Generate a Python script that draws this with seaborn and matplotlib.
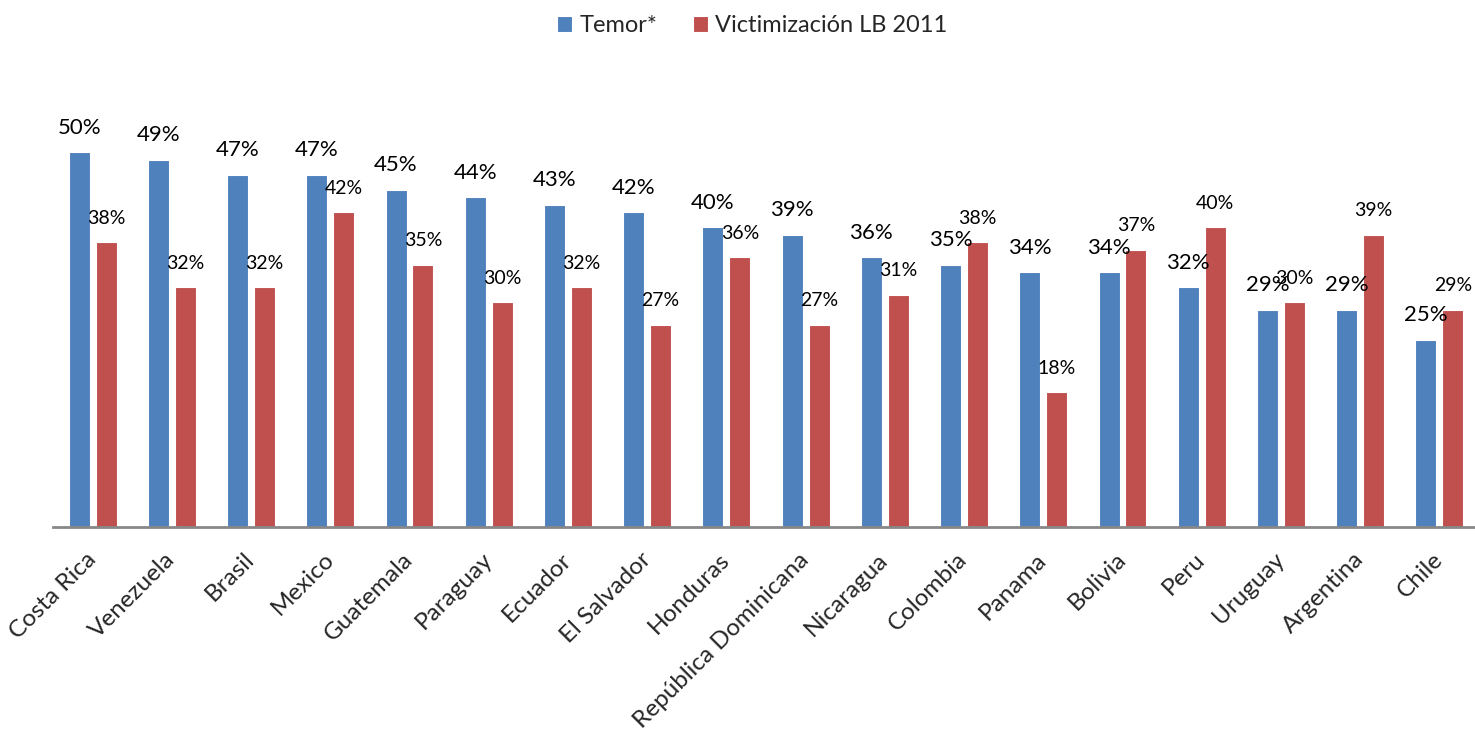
import seaborn as sns
import matplotlib.pyplot as plt
import pandas as pd

# data
countries = ["Costa Rica", "Venezuela", "Brasil", "Mexico", "Guatemala", "Paraguay",
             "Ecuador", "El Salvador", "Honduras", "República Dominicana", "Nicaragua",
             "Colombia", "Panama", "Bolivia", "Peru", "Uruguay", "Argentina", "Chile"]
temor = [50, 49, 47, 47, 45, 44, 43, 42, 40, 39, 36, 35, 34, 34, 32, 29, 29, 25]
victim = [38, 32, 32, 42, 35, 30, 32, 27, 36, 27, 31, 38, 18, 37, 40, 30, 39, 29]
series = ["Temor*", "Victimización LB 2011"]
colors = ["#4F81BD", "#C0504D"]

df = pd.DataFrame({
    "Pais": countries * 2,
    "Valor": [v / 100 for v in temor + victim],
    "Serie": [series[0]] * len(countries) + [series[1]] * len(countries),
})

sns.set_style("white")
plt.rcParams["font.family"] = ["Lato", "DejaVu Sans"]

fig = plt.figure(figsize=(14.75, 7.35), dpi=100)
ax = fig.add_axes([53 / 1475, 208 / 735, 1426 / 1475, 450 / 735])

sns.barplot(data=df, x="Pais", y="Valor", hue="Serie", palette=colors,
            width=0.68, gap=0.22, edgecolor="#ffffff", linewidth=0.8,
            saturation=1, ax=ax)

ax.set_ylim(0, 0.6)
ax.set_xlim(-0.5, len(countries) - 0.5)

# value labels
sizes = [16, 14]
for cont, fs in zip(ax.containers, sizes):
    for bar in cont:
        h = bar.get_height()
        ax.annotate(f"{h * 100:.0f}%", (bar.get_x() + bar.get_width() / 2, h),
                    xytext=(0, 13), textcoords="offset points",
                    ha="center", va="baseline", fontsize=fs, color="black")

ax.set_xlabel("")
ax.set_ylabel("")
ax.set_yticks([])
for s in ["left", "right", "top"]:
    ax.spines[s].set_visible(False)
ax.spines["bottom"].set_color("#888888")
ax.spines["bottom"].set_linewidth(2)
ax.tick_params(axis="x", length=0, pad=21)
plt.setp(ax.get_xticklabels(), rotation=45, ha="right", va="center",
         rotation_mode="anchor", fontsize=17.5)

handles, labels = ax.get_legend_handles_labels()
ax.legend(handles, labels, loc="upper center", bbox_to_anchor=(0.51, 1.008),
          bbox_transform=fig.transFigure, ncol=2, frameon=False, fontsize=17,
          handlelength=0.65, handleheight=0.65, handletextpad=0.3, columnspacing=1.5)

plt.savefig("out.png", dpi=100)
plt.close()
